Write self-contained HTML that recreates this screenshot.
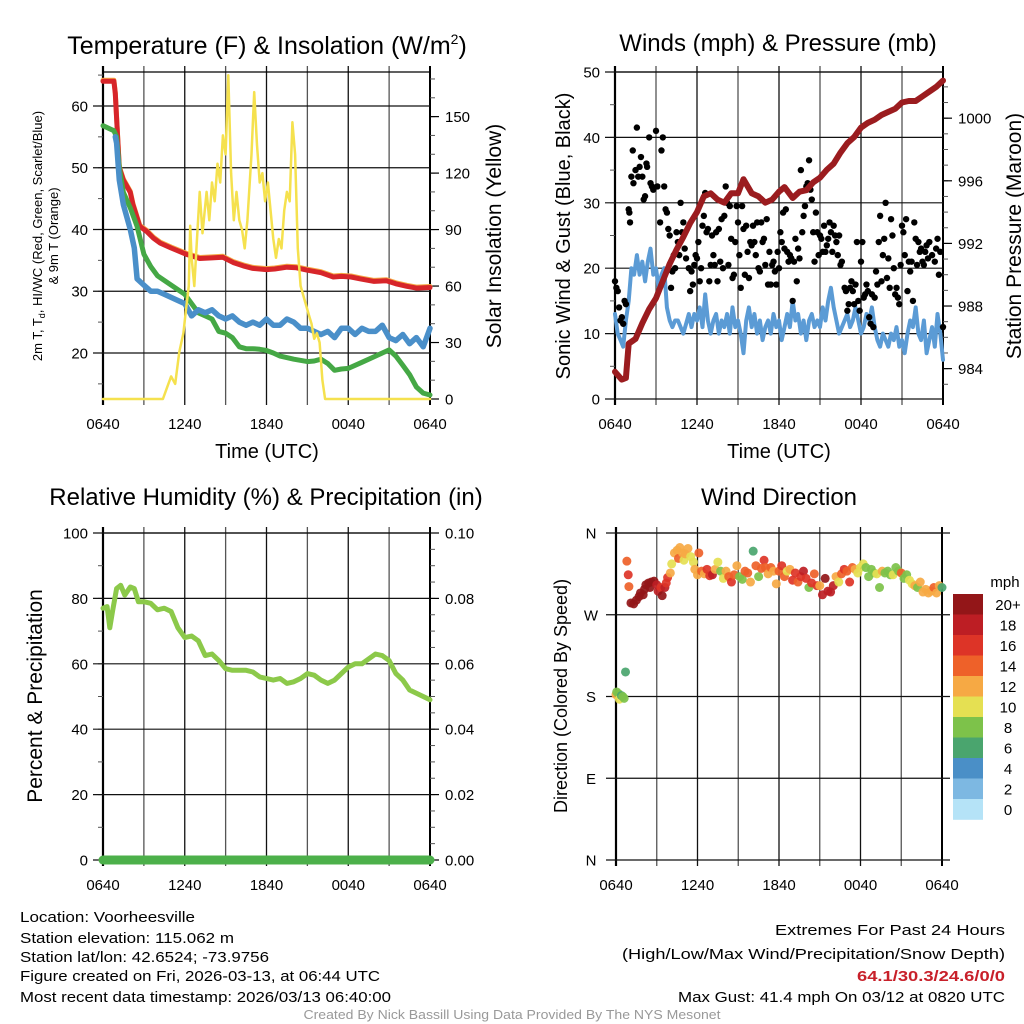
<!DOCTYPE html>
<html><head><meta charset="utf-8"><title>Weather station meteogram</title>
<style>
html,body{margin:0;padding:0;background:#fff;}
svg{display:block;font-family:"Liberation Sans",Arial,sans-serif;}
</style></head>
<body>
<svg id="chart" xmlns="http://www.w3.org/2000/svg" width="1024" height="1024" viewBox="0 0 1024 1024">
<rect x="0" y="0" width="1024" height="1024" fill="#fff"/>
<text x="267" y="54" font-size="25" text-anchor="middle">Temperature (F) &amp; Insolation (W/m<tspan font-size="14" dy="-10">2</tspan><tspan dy="10">)</tspan></text>
<text x="778" y="51" font-size="24" text-anchor="middle">Winds (mph) &amp; Pressure (mb)</text>
<text x="266" y="505" font-size="24" text-anchor="middle">Relative Humidity (%) &amp; Precipitation (in)</text>
<text x="779" y="505" font-size="24" text-anchor="middle">Wind Direction</text>

<text transform="translate(42,236) rotate(-90)" font-size="13" text-anchor="middle">2m T, T<tspan font-size="9" dy="3">d</tspan><tspan dy="-3">, HI/WC (Red, Green, Scarlet/Blue)</tspan></text>
<text transform="translate(58,236) rotate(-90)" font-size="13" text-anchor="middle">&amp; 9m T (Orange)</text>
<text transform="translate(501,236) rotate(-90)" font-size="21" text-anchor="middle">Solar Insolation (Yellow)</text>
<text x="267" y="458" font-size="20" text-anchor="middle">Time (UTC)</text>
<text x="779" y="458" font-size="20" text-anchor="middle">Time (UTC)</text>
<text transform="translate(570,236) rotate(-90)" font-size="20" text-anchor="middle">Sonic Wind &amp; Gust (Blue, Black)</text>
<text transform="translate(1021,236) rotate(-90)" font-size="21" text-anchor="middle">Station Pressure (Maroon)</text>
<text transform="translate(42,696) rotate(-90)" font-size="21" text-anchor="middle">Percent &amp; Precipitation</text>
<text transform="translate(567,696) rotate(-90)" font-size="18" text-anchor="middle">Direction (Colored By Speed)</text>
<text x="1005" y="587" font-size="15" text-anchor="middle">mph</text>

<g font-size="15" font-family="'Liberation Sans Narrow','Liberation Sans',sans-serif">
<text x="20" y="922" textLength="175" lengthAdjust="spacingAndGlyphs">Location: Voorheesville</text>
<text x="20" y="943" textLength="214" lengthAdjust="spacingAndGlyphs">Station elevation: 115.062 m</text>
<text x="20" y="962" textLength="249" lengthAdjust="spacingAndGlyphs">Station lat/lon: 42.6524; -73.9756</text>
<text x="20" y="981" textLength="360" lengthAdjust="spacingAndGlyphs">Figure created on Fri, 2026-03-13, at 06:44 UTC</text>
<text x="20" y="1002" textLength="371" lengthAdjust="spacingAndGlyphs">Most recent data timestamp: 2026/03/13 06:40:00</text>
<text x="1005" y="935" text-anchor="end" textLength="230" lengthAdjust="spacingAndGlyphs">Extremes For Past 24 Hours</text>
<text x="1005" y="959" text-anchor="end" textLength="383" lengthAdjust="spacingAndGlyphs">(High/Low/Max Wind/Precipitation/Snow Depth)</text>
<text x="1005" y="981" text-anchor="end" textLength="148" lengthAdjust="spacingAndGlyphs" fill="#c8202a" font-weight="bold">64.1/30.3/24.6/0/0</text>
<text x="1005" y="1002" text-anchor="end" textLength="327" lengthAdjust="spacingAndGlyphs">Max Gust: 41.4 mph On 03/12 at 0820 UTC</text>
<text x="512" y="1019" text-anchor="middle" font-size="13" fill="#999" textLength="417" lengthAdjust="spacingAndGlyphs">Created By Nick Bassill Using Data Provided By The NYS Mesonet</text>
</g>
</svg>
<script>
// ---------- data ----------
const xTickLabels = ["0640","1240","1840","0040","0640"];
const tempTicks = [20,30,40,50,60];
const solarTicks = [0,30,60,90,120,150];
const windTicks = [0,10,20,30,40,50];
const presTicks = [984,988,992,996,1000];
const rhTicks = [0,20,40,60,80,100];
const precipTicks = ["0.00","0.02","0.04","0.06","0.08","0.10"];
const dirLabels = ["N","E","S","W","N"];
const dirTickDeg = [0,90,180,270,360];
const speedBinLabels = ["0","2","4","6","8","10","12","14","16","18","20+"];

const tempTimes = [0,0.8,0.9,1.0,1.2,1.5,2.0,2.2,2.7,3.2,3.7,4.2,5.0,6.1,7.1,8.0,8.8,9.6,10.3,11.0,12.0,12.6,13.5,14.2,15.0,16.0,16.9,17.5,18.2,18.9,19.9,20.8,21.5,22.3,23.0,24.0];
const tempRed = [64,64,62,58,50,48,46,44,40.5,39.7,38.6,37.8,37,36,35.3,35.4,35.5,34.6,34.1,33.7,33.5,33.6,33.9,33.8,33.4,33,32.3,32.4,32.3,32,31.6,31.7,31.2,30.8,30.5,30.6];
const dewTimes = [0,0.8,1.0,1.2,1.5,2.0,2.5,3.0,3.5,4.0,5.0,6.0,6.5,7.0,7.5,8.0,8.5,9.0,9.5,10.0,10.5,11.0,11.5,12.0,12.5,13.0,14.0,15.0,15.5,16.0,16.5,17.0,17.5,18.0,19.0,20.0,20.5,21.0,21.5,22.0,22.5,23.0,23.5,24.0];
const dewGreen = [56.8,56,55,50,46,43.5,40.5,36,34,32.5,31,29.5,28,26.5,26,25.5,23.5,23.2,22.5,21,20.7,20.7,20.6,20.4,20,19.5,19,18.6,18.7,19,18.3,17.2,17.4,17.5,18.5,19.5,20,20.5,19.5,18,16.5,14.5,13.5,13.2];
const chillTimes = [0.9,1.0,1.2,1.5,2.0,2.3,2.5,3.0,3.5,4.0,4.5,5.0,5.5,6.0,6.5,7.0,7.5,8.0,8.5,9.0,9.5,10.0,10.5,11.0,11.5,12.0,12.5,13.0,13.5,14.0,14.5,15.0,15.5,16.0,16.5,17.0,17.5,18.0,18.5,19.0,19.5,20.0,20.5,21.0,21.5,22.0,22.5,23.0,23.5,24.0];
const chillBlue = [55,54,48,44,40,37,32,31,30,30,29.5,29,28.5,28,26,27,26.5,27,26,25.5,26,25,24.5,25,24.5,25.5,24.5,24.5,25.5,25,24,24,23.5,23,23.5,22.5,24,24,23,24,23.5,23.5,24.5,22.5,22,23,21.5,22.5,21,24];
const solarTimes = [0,4.4,4.7,5.0,5.3,5.6,5.9,6.1,6.3,6.4,6.5,6.7,6.9,7.1,7.3,7.6,7.8,8.0,8.2,8.4,8.6,8.8,9.0,9.2,9.4,9.6,9.8,10.0,10.2,10.4,10.6,10.9,11.1,11.3,11.5,11.7,11.9,12.1,12.3,12.5,12.7,12.9,13.1,13.3,13.5,13.7,13.9,14.1,14.3,14.5,14.7,14.9,15.1,15.3,15.5,15.7,15.9,16.1,16.3,24];
const solarVals = [0,0,6,12,8,25,35,48,60,92,75,60,85,110,88,110,95,115,105,125,115,140,130,172,120,95,110,95,90,80,95,130,163,135,115,120,105,115,100,85,75,85,80,100,110,105,147,130,80,60,55,50,45,40,32,35,30,10,0,0];

const windTimes = [0,0.2,0.4,0.6,0.8,1.0,1.2,1.4,1.6,1.8,2.0,2.2,2.4,2.6,2.8,3.0,3.2,3.4,3.6,3.8,4.0,4.2,4.4,4.6,4.8,5.0,5.2,5.4,5.6,5.8,6.0,6.2,6.4,6.6,6.8,7.0,7.2,7.4,7.6,7.8,8.0,8.2,8.4,8.6,8.8,9.0,9.2,9.4,9.6,9.8,10.0,10.2,10.4,10.6,10.8,11.0,11.2,11.4,11.6,11.8,12.0,12.2,12.4,12.6,12.8,13.0,13.2,13.4,13.6,13.8,14.0,14.2,14.4,14.6,14.8,15.0,15.2,15.4,15.6,15.8,16.0,16.2,16.4,16.6,16.8,17.0,17.2,17.4,17.6,17.8,18.0,18.2,18.4,18.6,18.8,19.0,19.2,19.4,19.6,19.8,20.0,20.2,20.4,20.6,20.8,21.0,21.2,21.4,21.6,21.8,22.0,22.2,22.4,22.6,22.8,23.0,23.2,23.4,23.6,23.8,24.0];
const windSpeed = [13,10,9,8,12,15,20,19,22,19,21,18,21,23,19,20,17,19,20,14,12,11,12,12,11,10,11.5,13,11,13,12,14,11,16,12,10,12,13,10,12,11,13,10,14,11,12,10,7,12,14,11,13,10,12,9,11,12,10,13,11,12,9,11,13,11,15,12,13,10,12,9,12,13,11,12,11,14,12,15,17,14,12,10,11,12,13,11,12,14,12,10,11,13,12,14,11,9,8,10,9,8,10,9,11,8,9,7,10,12,11,14,10,9,12,7,9,11,8,13,10,6];
const gustTimes = [0,0.1,0.2,0.3,0.4,0.5,0.6,0.7,0.8,1.0,1.05,1.1,1.2,1.3,1.35,1.5,1.6,1.7,1.8,1.9,2.0,2.1,2.2,2.3,2.35,2.5,2.6,2.7,2.8,3.0,3.1,3.3,3.4,3.5,3.6,3.7,3.8,3.9,4.0,4.1,4.2,4.3,4.4,4.5,4.6,4.7,4.8,4.9,5.0,5.1,5.2,5.4,5.5,5.6,5.7,5.8,5.9,6.0,6.1,6.2,6.3,6.4,6.5,6.6,6.7,6.8,6.9,7.0,7.1,7.2,7.3,7.4,7.5,7.6,7.7,7.8,7.9,8.0,8.1,8.2,8.3,8.4,8.5,8.6,8.7,8.8,8.9,9.0,9.1,9.2,9.3,9.4,9.5,9.6,9.7,9.8,9.9,10.0,10.1,10.2,10.3,10.4,10.5,10.6,10.7,10.8,10.9,11.0,11.1,11.2,11.3,11.4,11.5,11.6,11.7,11.8,11.9,12.0,12.1,12.2,12.3,12.4,12.5,12.6,12.7,12.8,12.9,13.0,13.1,13.2,13.3,13.4,13.5,13.6,13.7,13.8,13.9,14.0,14.1,14.2,14.3,14.4,14.5,14.6,14.7,14.8,14.9,15.0,15.1,15.2,15.3,15.4,15.5,15.6,15.7,15.8,15.9,16.0,16.1,16.2,16.3,16.4,16.5,16.6,16.8,16.9,17.0,17.1,17.2,17.3,17.4,17.5,17.6,17.7,17.8,17.9,18.0,18.1,18.2,18.3,18.4,18.5,18.6,18.7,18.8,18.9,19.0,19.1,19.2,19.3,19.4,19.5,19.6,19.7,19.8,19.9,20.0,20.1,20.2,20.3,20.4,20.5,20.6,20.7,20.8,20.9,21.0,21.1,21.2,21.3,21.4,21.5,21.6,21.7,21.8,21.9,22.0,22.1,22.2,22.3,22.4,22.5,22.6,22.7,22.8,22.9,23.0,23.2,23.4,23.5,23.6,23.7,23.8,24.0];
const gustSpeed = [18,17,16.5,14,12,12.5,11.5,15,14.5,29,28.5,27,34,38,33,35,41.5,34,35.5,37,34,30.5,31,36,35.5,40,33,32.5,32,41,32.5,27,38,40,32.5,29,28.5,26,25,17,19.5,22,20,25.5,24,22,30,25.5,27,23,21.5,20,16.5,19.5,17.5,20.5,22,21.5,24,18,20,26.5,28,31.5,25.5,26,18,20.5,25,22,20.5,25.5,18,26,21,27.5,20,28,32.5,30,20.5,29.5,24.5,18.5,19,24,29.5,27,22,17,29.5,26,19,26.5,22.5,18.5,24,23.5,26.5,24,22,27,20,19.5,27,24,24.5,20.5,27.5,17.5,22.5,17.5,20.5,21,19.5,17.5,22.5,20,25.5,24,28.5,23,29,22.5,21,22,21.5,15,21,24.5,18,23,21.5,35,25.5,28,29.5,32.5,33,36.5,32,30.5,25.5,21,28.5,25.5,22,25,24.5,22.5,26.5,22.5,23.5,24.5,27,25.5,22.5,26.5,25,24,22,25,20.5,21,17,16.5,13.5,14.5,17,18,16.5,14.5,17.5,24,15,13.5,21,24,15.5,16,17.5,16.5,12.5,11.5,16,11,15.5,19.5,17.5,24,28,18,22,24.5,30,18.5,21.5,17,27.5,25,20,16,17,15.5,14.5,20.5,26.5,25.5,22,27.5,16.5,21,19.5,21,15,27,24.5,20.5,24,22.5,23,21,20.5,22.5,23.5,21.5,24,22,21,23,24.5,19,22.5,11];
const presTimes = [0,0.5,0.8,1.0,1.5,2.0,2.5,3.0,3.5,4.0,4.5,5.0,5.5,6.0,6.5,7.0,7.5,8.0,8.5,9.0,9.4,10.0,10.5,11.0,11.5,12.0,12.4,13.0,13.5,14.0,14.5,15.0,15.5,16.0,16.5,17.0,17.5,18.0,18.5,19.0,19.5,20.0,20.5,21.0,21.5,22.0,22.5,23.0,23.5,24.0];
const presVals = [983.8,983.3,983.4,985.6,985.9,986.9,987.8,988.5,989.6,990.7,991.6,992.4,993.3,994.0,995.0,995.2,994.8,994.6,995.2,995.2,996.1,995.2,995.0,994.6,994.8,995.3,995.6,994.9,995.3,995.4,995.9,996.2,996.7,997.1,997.8,998.4,998.8,999.4,999.7,999.9,1000.2,1000.4,1000.6,1001.0,1001.1,1001.1,1001.4,1001.7,1002.0,1002.4];

const rhTimes = [0,0.3,0.5,0.7,1.0,1.3,1.6,2.0,2.3,2.6,3.0,3.5,4.0,4.5,5.0,5.5,6.0,6.5,7.0,7.5,8.0,8.5,9.0,9.5,10.0,10.5,11.0,11.5,12.0,12.5,13.0,13.5,14.0,14.5,15.0,15.5,16.0,16.5,17.0,17.5,18.0,18.5,19.0,19.5,20.0,20.5,21.0,21.5,22.0,22.5,23.0,23.5,24.0];
const rhVals = [77,77.5,71,76,83,84,81,83.5,83,79,79,78.5,76.5,77,76,71,68,68.5,67,62.5,63,61,58.5,58,58,58,57.5,56,55.5,55,55.5,54,54.5,55.5,57,56.5,55,54,55,57,59,60,60,61.5,63,62.5,61,57,55,52,51,50,49];
const precipTimes = [0,24];
const precipVals = [0,0];

const dirTimes = [0,0.05,0.2,0.25,0.4,0.5,0.6,0.7,0.8,0.9,0.95,1.1,1.3,1.5,1.7,1.8,2.0,2.1,2.2,2.4,2.5,2.6,2.8,3.0,3.1,3.3,3.4,3.6,3.7,3.8,4.0,4.1,4.3,4.5,4.6,4.7,4.9,5.0,5.1,5.3,5.5,5.7,5.8,6.0,6.1,6.3,6.5,6.7,6.9,7.1,7.3,7.5,7.7,7.9,8.1,8.3,8.5,8.7,8.9,9.1,9.3,9.5,9.7,9.9,10.1,10.3,10.5,10.7,10.9,11.0,11.2,11.4,11.6,11.8,12.0,12.2,12.4,12.6,12.8,13.0,13.2,13.4,13.6,13.8,14.0,14.2,14.4,14.6,14.8,15.0,15.2,15.4,15.6,15.8,16.0,16.2,16.4,16.6,16.8,17.0,17.2,17.4,17.6,17.8,18.0,18.2,18.4,18.6,18.8,19.0,19.2,19.4,19.6,19.8,20.0,20.2,20.4,20.6,20.8,21.0,21.2,21.4,21.6,21.8,22.0,22.2,22.4,22.6,22.8,23.0,23.2,23.4,23.6,23.8,24.0];
const dirDeg = [182,185,183,177,181,180,178,207,329,314,301,283,282,286,290,294,292,298,303,305,300,306,307,303,296,300,291,300,305,311,316,326,338,341,332,344,338,330,337,343,334,328,320,314,338,318,315,320,313,314,320,328,318,310,318,312,306,314,324,312,309,318,316,306,340,324,312,321,330,322,315,322,318,304,318,324,312,318,320,308,316,306,312,318,310,300,305,315,302,302,292,310,296,295,302,312,306,315,320,318,306,322,320,316,322,326,322,312,320,316,315,300,318,316,318,314,314,322,318,316,310,314,308,304,302,300,306,295,298,294,296,300,294,302,300];
const dirSpeed = [12,8,8,10,6,8,8,6,14,17,14,20,20,20,20,20,20,20,20,20,20,20,20,18,18,16,20,18,16,16,12,10,12,12,14,12,12,10,12,12,10,10,12,12,14,14,12,16,16,18,12,10,8,10,12,14,16,14,12,8,8,14,14,12,6,14,8,14,16,14,12,14,12,12,14,16,14,10,12,16,16,14,16,18,16,8,16,14,16,12,18,20,18,18,18,12,10,14,16,14,16,14,12,10,10,10,8,8,8,8,10,8,12,8,8,8,10,8,8,14,8,8,10,10,12,8,12,12,12,12,12,14,12,12,6];
const speedColors = ["#b5e3f7","#7db8e2","#4a8fc7","#4aa56e","#7dc24a","#e5e052","#f6a944","#ee6129","#dd3427","#bd1e24","#931618"];

// ---------- helpers ----------
const NS = "http://www.w3.org/2000/svg";
const svg = document.getElementById("chart");
function mk(tag, attrs, parent) {
  const el = document.createElementNS(NS, tag);
  for (const k in attrs) el.setAttribute(k, attrs[k]);
  (parent || svg).appendChild(el);
  return el;
}
function linScale(d0, d1, r0, r1) { return v => r0 + (v - d0) / (d1 - d0) * (r1 - r0); }
function pathFrom(ts, vs, xf, yf) {
  let d = "";
  for (let i = 0; i < ts.length; i++) {
    if (vs[i] === null) continue;
    d += (d ? "L" : "M") + xf(ts[i]).toFixed(1) + "," + yf(vs[i]).toFixed(1);
  }
  return d;
}

function frame(P, name) {
  const g = mk("g", {});
  
  
  const xs = linScale(0, 24, P.x0, P.x1);
  for (let h = 0; h <= 24; h += 3) {
    const x = xs(h);
    const gl = mk("line", {x1: x, x2: x, y1: P.y0 - 6, y2: P.y1 + 6, stroke: (h % 6 === 0) ? "#111" : "#555", "stroke-width": 1.3}, g);
    
    
  }
  xTickLabels.forEach((lab, i) => {
    const t = mk("text", {x: xs(i * 6), y: P.y1 + 30, "font-size": 15, "text-anchor": "middle"}, g);
    t.textContent = lab;
    
    
  });
  const top = mk("line", {x1: P.x0, x2: P.x1, y1: P.y0, y2: P.y0, stroke: "#000", "stroke-width": 1.2}, g);
  
  
  const lb = mk("line", {x1: P.x0, x2: P.x0, y1: P.y0 - 6, y2: P.y1 + 6, stroke: "#000", "stroke-width": 2.2}, g);
  
  
  const rb = mk("line", {x1: P.x1, x2: P.x1, y1: P.y0 - 6, y2: P.y1 + 6, stroke: "#000", "stroke-width": 2}, g);
  
  
  return {g, xs};
}
function leftAxis(g, P, ys, ticks, labels, minorStep, lo, hi, grid) {
  for (let v = lo; v <= hi + 1e-9; v += minorStep) {
    const y = ys(v);
    if (y < P.y0 - 0.5 || y > P.y1 + 0.5) continue;
    const m = mk("line", {x1: P.x0 - 5, x2: P.x0, y1: y, y2: y, stroke: "#555", "stroke-width": 1}, g);
    
    
  }
  ticks.forEach((v, i) => {
    const y = ys(v);
    if (grid) {
      const gl = mk("line", {x1: P.x0 - 10, x2: P.x1, y1: y, y2: y, stroke: "#111", "stroke-width": 1.2}, g);
      
      
    }
    const t = mk("text", {x: P.x0 - 15, y: y + 5.5, "font-size": 15, "text-anchor": "end"}, g);
    t.textContent = labels[i];
    
    
  });
}
function rightAxis(g, P, ys, ticks, labels, minorStep, lo, hi) {
  for (let v = lo; v <= hi + 1e-9; v += minorStep) {
    const y = ys(v);
    if (y < P.y0 - 0.5 || y > P.y1 + 0.5) continue;
    const m = mk("line", {x1: P.x1, x2: P.x1 + 5, y1: y, y2: y, stroke: "#555", "stroke-width": 1}, g);
    
    
  }
  ticks.forEach((v, i) => {
    const y = ys(v);
    const tk = mk("line", {x1: P.x1, x2: P.x1 + 9, y1: y, y2: y, stroke: "#000", "stroke-width": 1.2}, g);
    
    
    const t = mk("text", {x: P.x1 + 15, y: y + 5.5, "font-size": 15}, g);
    t.textContent = labels[i];
    
    
  });
}
function line(ts, vs, xf, yf, color, w, name) {
  const p = mk("path", {d: pathFrom(ts, vs, xf, yf), fill: "none", stroke: color, "stroke-width": w, "stroke-linejoin": "round", "stroke-linecap": "round"});
  
  
  return p;
}

// ---------- panel 1: temperature ----------
const P1 = {x0: 103, x1: 430, y0: 72, y1: 399};
const f1 = frame(P1, "temperature");
const yT = linScale(12.55, 65.5, P1.y1, P1.y0);
const yS = linScale(0, 173.7, P1.y1, P1.y0);
leftAxis(f1.g, P1, yT, tempTicks, tempTicks.map(String), 5, 15, 65, true);
rightAxis(f1.g, P1, yS, solarTicks, solarTicks.map(String), 10, 0, 170);
line(tempTimes, tempRed, f1.xs, v => yT(v) - 1, "#f6a944", 5, "9m-temperature-line");
line(tempTimes, tempRed, f1.xs, yT, "#d7252a", 5, "2m-temperature-line");
line(dewTimes, dewGreen, f1.xs, yT, "#45a845", 5, "dewpoint-line");
line(chillTimes, chillBlue, f1.xs, yT, "#4a8fc9", 5.5, "wind-chill-line");
line(solarTimes, solarVals, f1.xs, yS, "#f5e14e", 2.5, "solar-insolation-line");

// ---------- panel 2: winds ----------
const P2 = {x0: 615, x1: 943, y0: 72, y1: 399};
const f2 = frame(P2, "winds");
const yW = linScale(0, 50, P2.y1, P2.y0);
const yP = linScale(982.06, 1002.95, P2.y1, P2.y0);
leftAxis(f2.g, P2, yW, windTicks, windTicks.map(String), 5, 0, 50, true);
rightAxis(f2.g, P2, yP, presTicks, presTicks.map(String), 1, 983, 1002);
line(windTimes, windSpeed, f2.xs, yW, "#5b9bd5", 4, "sustained-wind-line");
gustTimes.forEach((t, i) => {
  const c = mk("circle", {cx: f2.xs(t), cy: yW(gustSpeed[i]), r: 3.2, fill: "#000"});
  
  
});
line(presTimes, presVals, f2.xs, yP, "#9b1c1f", 6, "pressure-line");

// ---------- panel 3: humidity ----------
const P3 = {x0: 103, x1: 430, y0: 533, y1: 860};
const f3 = frame(P3, "humidity");
const yRH = linScale(0, 100, P3.y1, P3.y0);
const yPr = linScale(0, 0.1, P3.y1, P3.y0);
leftAxis(f3.g, P3, yRH, rhTicks, rhTicks.map(String), 10, 0, 100, true);
rightAxis(f3.g, P3, yPr, precipTicks.map(Number), precipTicks, 0.005, 0, 0.1);
line(rhTimes, rhVals, f3.xs, yRH, "#8cc94a", 5, "relative-humidity-line");
line(precipTimes, precipVals, f3.xs, yPr, "#4cb04a", 9, "precipitation-line");

// ---------- panel 4: wind direction ----------
const P4 = {x0: 616, x1: 942, y0: 533, y1: 860};
const f4 = frame(P4, "direction");
const yD = linScale(0, 360, P4.y1, P4.y0);
dirTickDeg.forEach((d, i) => {
  const y = yD(d);
  const gl = mk("line", {x1: P4.x0 - 10, x2: P4.x1 + 8, y1: y, y2: y, stroke: "#111", "stroke-width": 1.2}, f4.g);
  
  
  const t = mk("text", {x: 591, y: y + 5.5, "font-size": 15, "text-anchor": "middle"}, f4.g);
  t.textContent = dirLabels[i];
  
  
});
dirTimes.forEach((t, i) => {
  const bin = Math.min(10, Math.floor(dirSpeed[i] / 2));
  const c = mk("circle", {cx: f4.xs(t), cy: yD(dirDeg[i]), r: 4.5, fill: speedColors[bin], "fill-opacity": 0.92});
  
  
});
// colorbar
const cbTop = 594, cbH = 20.5;
speedBinLabels.forEach((lab, i) => {
  const k = speedBinLabels.length - 1 - i;
  const r = mk("rect", {x: 953, y: cbTop + i * cbH, width: 30, height: cbH + 0.3, fill: speedColors[k]});
  
  
  const t = mk("text", {x: 1008, y: cbTop + i * cbH + cbH / 2 + 5.5, "font-size": 15, "text-anchor": "middle"});
  t.textContent = speedBinLabels[k];
  
  
});
</script>
</body></html>
